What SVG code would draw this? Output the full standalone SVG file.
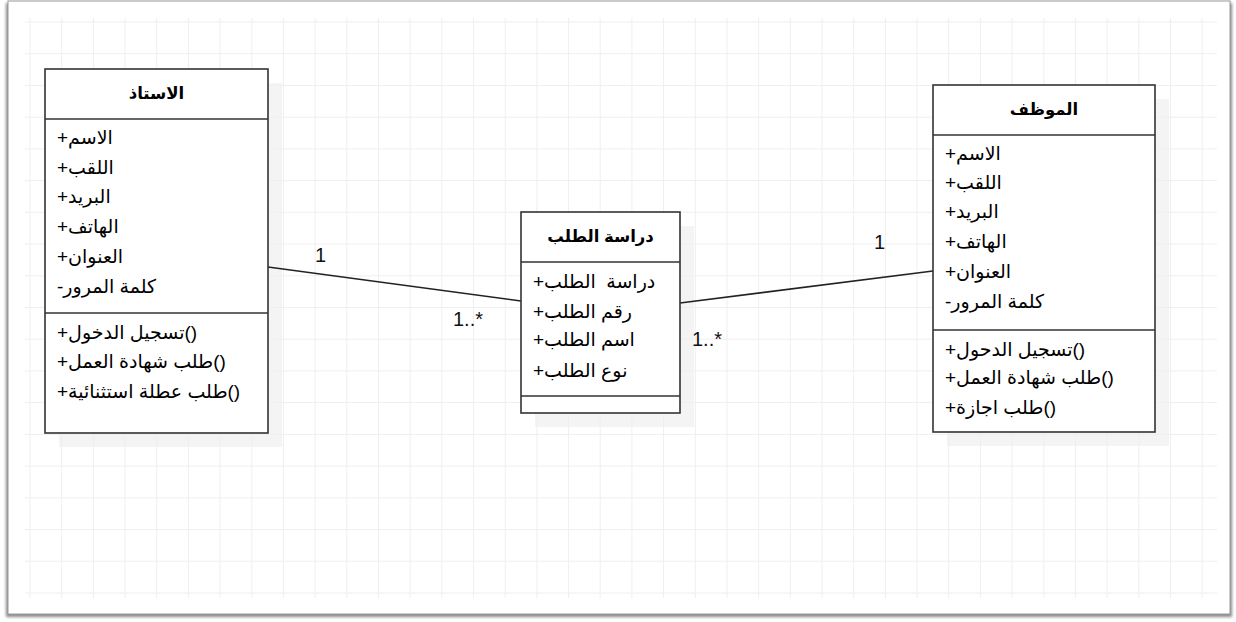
<svg xmlns="http://www.w3.org/2000/svg" width="1236" height="622" viewBox="0 0 1236 622">
<style>
.frame{fill:#ffffff;stroke:#9a9a9a;stroke-width:1}
.grid{fill:none;stroke:#efefef;stroke-width:1}
.shade{fill:#ececec;opacity:0.6}
.box{fill:#ffffff;stroke:#333333;stroke-width:1.6}
.sep{stroke:#333333;stroke-width:1.6}
.conn{fill:none;stroke:#222222;stroke-width:1.6}
.hdr{font-family:"Liberation Sans","DejaVu Sans",sans-serif;font-size:16.5px;font-weight:bold;fill:#000;text-anchor:middle}
.itm{font-family:"Liberation Sans","DejaVu Sans",sans-serif;font-size:19px;fill:#000;white-space:pre}
.lbl{font-family:"Liberation Sans","DejaVu Sans",sans-serif;font-size:20px;fill:#111}
</style>
<defs>
<filter id="fsh" x="-5%" y="-5%" width="110%" height="110%">
<feGaussianBlur stdDeviation="1.5"/>
</filter>
</defs>
<rect x="6" y="3" width="1226" height="614" fill="#8a8a8a" filter="url(#fsh)"/>
<rect class="frame" x="8" y="1" width="1222" height="613"/>
<g id="shades">
<rect class="shade" x="59" y="83" width="223" height="364"/>
<rect class="shade" x="535" y="226" width="159" height="201"/>
<rect class="shade" x="947" y="99" width="222" height="347"/>
</g>
<path class="grid" d="M25 22H1217M25 53.7H1217M25 85.4H1217M25 117.2H1217M25 148.9H1217M25 180.6H1217M25 212.3H1217M25 244H1217M25 275.8H1217M25 307.5H1217M25 339.2H1217M25 370.9H1217M25 402.6H1217M25 434.4H1217M25 466.1H1217M25 497.8H1217M25 529.5H1217M25 561.2H1217M25 593H1217
M30 18V598M61.7 18V598M93.4 18V598M125 18V598M156.7 18V598M188.4 18V598M220.1 18V598M251.8 18V598M283.4 18V598M315.1 18V598M346.8 18V598M378.5 18V598M410.2 18V598M441.8 18V598M473.5 18V598M505.2 18V598M536.9 18V598M568.6 18V598M600.2 18V598M631.9 18V598M663.6 18V598M695.3 18V598M727 18V598M758.6 18V598M790.3 18V598M822 18V598M853.7 18V598M885.4 18V598M917 18V598M948.7 18V598M980.4 18V598M1012.1 18V598M1043.8 18V598M1075.4 18V598M1107.1 18V598M1138.8 18V598M1170.5 18V598M1202.2 18V598"/>
<g id="connectors">
<line class="conn" x1="268" y1="267" x2="521" y2="301"/>
<line class="conn" x1="680" y1="303" x2="933" y2="271"/>
<text class="lbl" x="315" y="262">1</text>
<text class="lbl" x="453" y="326">1..*</text>
<text class="lbl" x="874" y="249">1</text>
<text class="lbl" x="692" y="346">1..*</text>
</g>
<g id="node-ostadh">
<rect class="box" x="45" y="69" width="223" height="364"/>
<line class="sep" x1="45" y1="119" x2="268" y2="119"/>
<line class="sep" x1="45" y1="313" x2="268" y2="313"/>
<text class="hdr" x="156.5" y="99">الاستاذ</text>
<text class="itm" x="57" y="144">+الاسم</text>
<text class="itm" x="57" y="174">+اللقب</text>
<text class="itm" x="57" y="203">+البريد</text>
<text class="itm" x="57" y="233">+الهاتف</text>
<text class="itm" x="57" y="263">+العنوان</text>
<text class="itm" x="57" y="293">-كلمة المرور</text>
<text class="itm" x="57" y="339">+تسجيل الدخول()</text>
<text class="itm" x="57" y="368">+طلب شهادة العمل()</text>
<text class="itm" x="57" y="398">+طلب عطلة استثنائية()</text>
</g>
<g id="node-dirasa">
<rect class="box" x="521" y="212" width="159" height="201"/>
<line class="sep" x1="521" y1="262" x2="680" y2="262"/>
<line class="sep" x1="521" y1="396" x2="680" y2="396"/>
<text class="hdr" x="600.5" y="242">دراسة الطلب</text>
<text class="itm" x="533" y="288">+دراسة  الطلب</text>
<text class="itm" x="533" y="318">+رقم الطلب</text>
<text class="itm" x="533" y="346">+اسم الطلب</text>
<text class="itm" x="533" y="377">+نوع الطلب</text>
</g>
<g id="node-muwazzaf">
<rect class="box" x="933" y="85" width="222" height="347"/>
<line class="sep" x1="933" y1="135" x2="1155" y2="135"/>
<line class="sep" x1="933" y1="330" x2="1155" y2="330"/>
<text class="hdr" x="1044" y="115">الموظف</text>
<text class="itm" x="945" y="160">+الاسم</text>
<text class="itm" x="945" y="189">+اللقب</text>
<text class="itm" x="945" y="218">+البريد</text>
<text class="itm" x="945" y="248">+الهاتف</text>
<text class="itm" x="945" y="278">+العنوان</text>
<text class="itm" x="945" y="308">-كلمة المرور</text>
<text class="itm" x="945" y="356">+تسجيل الدحول()</text>
<text class="itm" x="945" y="384">+طلب شهادة العمل()</text>
<text class="itm" x="945" y="414">+طلب اجازة()</text>
</g>
</svg>
